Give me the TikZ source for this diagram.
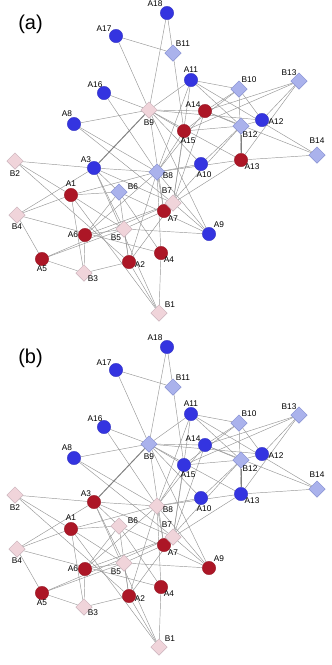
\documentclass[tikz,border=0pt]{standalone}
\usepackage{fontspec}
\setmainfont{Liberation Sans}
\usetikzlibrary{shapes.geometric,backgrounds}
\definecolor{cblue}{RGB}{52,52,224}
\definecolor{cred}{RGB}{172,22,38}
\definecolor{dpink}{RGB}{240,212,218}
\definecolor{dpinkb}{RGB}{200,176,184}
\definecolor{dblue}{RGB}{170,178,236}
\definecolor{dblueb}{RGB}{130,140,208}
\definecolor{edgec}{RGB}{150,150,150}
\tikzset{
  cb/.style={circle,fill=cblue,draw=cblue!85!black,line width=0.3pt,minimum size=13.4pt,inner sep=0pt},
  cr/.style={circle,fill=cred,draw=cred!85!black,line width=0.3pt,minimum size=13.4pt,inner sep=0pt},
  dp/.style={diamond,fill=dpink,draw=dpinkb,line width=0.4pt,minimum size=16.6pt,inner sep=0pt},
  db/.style={diamond,fill=dblue,draw=dblueb,line width=0.4pt,minimum size=16.6pt,inner sep=0pt},
  lab/.style={font=\fontsize{8.3}{9}\selectfont,inner sep=0pt,text=black},
  plab/.style={font=\fontsize{20}{22}\selectfont,inner sep=0pt},
  edgeln/.style={draw=edgec,line width=0.45pt},
  edgethick/.style={draw=edgec!85!black,line width=1pt},
}
\begin{document}
\begin{tikzpicture}[x=1pt,y=-1pt]
\useasboundingbox (0,0) rectangle (332,665);
\node[plab] (pa) at (30.5,24) {(a)};
\node[plab] (pb) at (30.5,358.5) {(b)};
\foreach \n/\x/\y/\dx/\dy/\ka/\kb in {
  A1/71/195/0/-11/cr/cr, A2/129/262/11/3/cr/cr, A3/94/168/-8/-8/cb/cr,
  A4/161/253/8/7/cr/cr, A5/42/259/0/10/cr/cr, A6/85/235/-12/0/cr/cr,
  A7/164/211/9/8/cr/cr, A8/74/124/-7/-10/cb/cb, A9/209/234/10/-9/cb/cr,
  A10/201/164/3/11/cb/cb, A11/191/80/0/-10/cb/cb, A12/262/120/14/2/cb/cb,
  A13/241/160/11/7/cr/cb, A14/205/111/-12/-6/cr/cb, A15/184/131/4/10/cr/cb,
  A16/104/93/-9/-8/cb/cb, A17/116/36/-12/-7/cb/cb, A18/167/13/-12/-9/cb/cb,
  B1/159/313/11/-8/dp/dp, B2/15/161/0/13/dp/dp, B3/84/273/9/6/dp/dp,
  B4/17/215/0/12/dp/dp, B5/124/229/-8/9/dp/dp, B6/119/192/14/-5/db/dp,
  B7/173/203/-6/-12/dp/dp, B8/157/172/11/4/db/dp, B9/149/110/0/13/dp/db,
  B10/239/89/10/-9/db/db, B11/173/53/10/-9/db/db, B12/241/126/9/9/db/db,
  B13/299/81/-10/-8/db/db, B14/317/155/0/-14/db/db}
{
  \node[\ka] (a\n) at (\x,\y) {};
  \node[lab] (la\n) at ({\x+(\dx)},{\y+(\dy)}) {\n};
  \node[\kb] (b\n) at (\x,{\y+334}) {};
  \node[lab] (lb\n) at ({\x+(\dx)},{\y+334+(\dy)}) {\n};
}
\begin{scope}[on background layer]
\foreach \p in {a,b}{
  \foreach \u/\v in {
    A4/B1, A2/B1, A1/B1, A3/B1,
    A3/B2, A1/B2, A2/B2,
    A5/B3, A2/B3, A6/B3, A1/B3,
    A1/B4, A3/B4, A5/B4, A4/B4,
    A9/B5, A2/B5, A6/B5, A3/B5, A7/B5, A1/B5, A5/B5,
    A3/B6, A1/B6, A2/B6, A4/B6, A9/B6, A6/B6,
    A9/B7, A13/B7, A11/B7, A15/B7, A14/B7, A5/B7, A6/B7, A2/B7, A3/B7, A8/B7,
    A16/B8, A8/B8, A3/B8, A10/B8, A13/B8, A15/B8, A1/B8, A6/B8, A2/B8, A4/B8, A7/B8, A9/B8, A14/B8, A11/B8,
    A18/B9, A17/B9, A16/B9, A8/B9, A14/B9, A11/B9, A15/B9, A10/B9, A9/B9, A7/B9, A12/B9, A13/B9,
    A11/B10, A14/B10, A15/B10, A12/B10, A13/B10,
    A18/B11, A17/B11, A15/B11,
    A12/B12, A14/B12, A11/B12, A15/B12, A10/B12, A7/B12,
    A14/B13, A15/B13, A12/B13, A13/B13,
    A11/B14, A13/B14, A14/B14}
  {\draw[edgeln] (\p\u) -- (\p\v);}
  \draw[edgethick] (\p A3) -- (\p B9);
  \draw[edgethick] (\p A13) -- (\p B12);
}
\end{scope}
\end{tikzpicture}
\end{document}
